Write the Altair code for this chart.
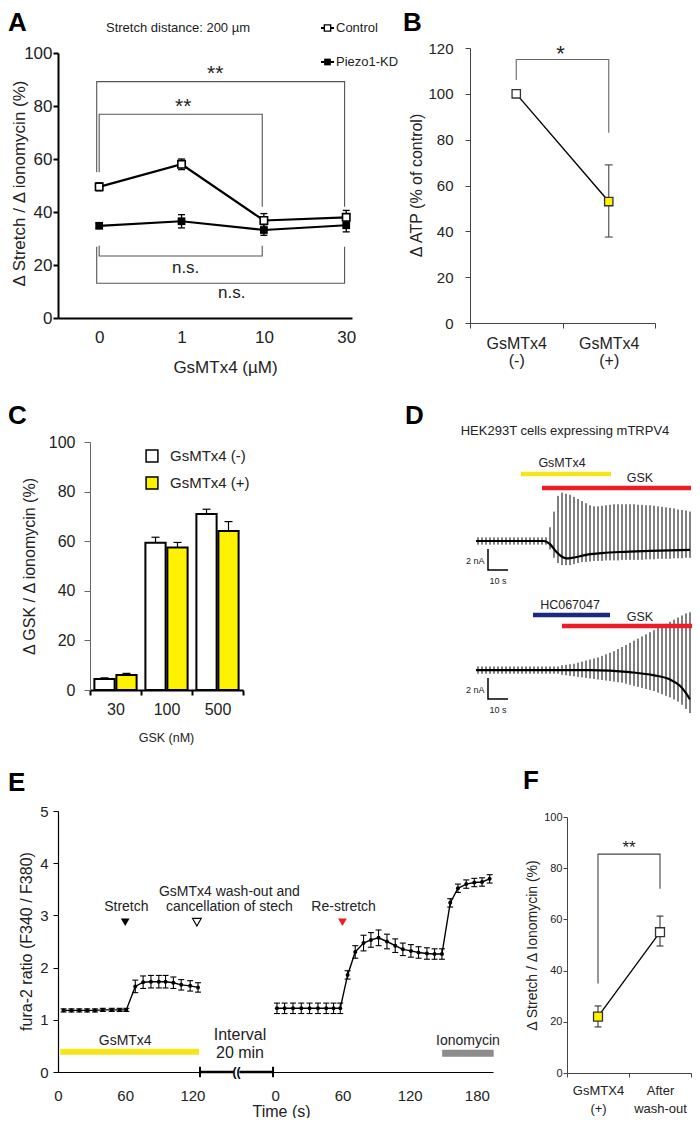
import altair as alt
import pandas as pd

FONT = "Liberation Sans"
INK = "#222222"
AX = "#444444"
YEL = "#FFF200"

# ======================= DATA =======================
# ---- Panel A ----
a_dose = ["0", "1", "10", "30"]
a_series = ["Control", "Piezo1-KD"]
a_ctrl = [49.5, 58.0, 36.8, 38.0]
a_ctrl_err = [1.5, 2.0, 2.6, 2.6]
a_kd = [34.8, 36.5, 33.2, 35.0]
a_kd_err = [1.0, 2.5, 2.0, 2.5]
a_br1_x = [-0.03, -0.03, 2.98, 2.98]
a_br1_y = [55.0, 89.2, 89.2, 42.0]
a_br2_x = [0.0, 0.0, 1.98, 1.98]
a_br2_y = [55.0, 76.9, 76.9, 42.0]
a_br3_x = [0.0, 0.0, 1.98, 1.98]
a_br3_y = [27.3, 23.4, 23.4, 27.3]
a_br4_x = [-0.03, -0.03, 2.98, 2.98]
a_br4_y = [26.9, 13.1, 13.1, 26.9]
a_star_x = [1.41, 1.02]
a_star_y = [92.0, 79.5]
a_ns_x = [1.05, 1.61]
a_ns_y = [18.9, 9.4]

# ---- Panel B ----
b_cat = ["GsMTx4|(-)", "GsMTx4|(+)"]
b_val = [100.0, 53.0]
b_lo = [100.0, 37.5]
b_hi = [100.0, 69.0]
b_br_y = [106.0, 115.0, 115.0, 83.0]
b_star_y = 117.5

# ---- Panel C ----
c_gsk = ["30", "100", "500"]
c_groups = ["GsMTx4 (-)", "GsMTx4 (+)"]
c_minus = [4.4, 59.4, 71.0]
c_minus_err = [0.5, 2.2, 1.9]
c_plus = [6.0, 57.5, 64.1]
c_plus_err = [0.7, 2.0, 3.8]

# ---- Panel D (patch clamp traces; time in s, current in nA) ----
d_t1 = [4, 6, 8, 10, 12, 14, 16, 18, 20, 22, 24, 26, 28, 30, 32, 34, 36, 38,
        40, 42, 44, 46, 48, 50, 52, 54, 56, 58, 60, 62, 64, 66, 68, 70, 72, 74,
        76, 78, 80, 82, 84, 86, 88, 90, 92, 94, 96, 98, 100, 102, 104, 106, 108, 110]
d_hi1 = [0.35, 0.35, 0.35, 0.35, 0.35, 0.35, 0.35, 0.35, 0.35, 0.35, 0.35, 0.35, 0.35, 0.35, 0.35, 0.35, 0.35, 0.35,
         1.3, 2.8, 4.3, 4.6, 4.5, 4.4, 4.2, 4.0, 3.8, 3.6, 3.4, 3.3, 3.3, 3.35, 3.4, 3.45, 3.5, 3.5,
         3.5, 3.5, 3.5, 3.5, 3.45, 3.45, 3.4, 3.4, 3.35, 3.3, 3.25, 3.2, 3.15, 3.1, 3.0, 2.95, 2.9, 2.8]
d_lo1 = [-0.35, -0.35, -0.35, -0.35, -0.35, -0.35, -0.35, -0.35, -0.35, -0.35, -0.35, -0.35, -0.35, -0.35, -0.35, -0.35, -0.35, -0.35,
         -0.8, -1.6, -2.1, -2.3, -2.3, -2.3, -2.2, -2.1, -2.0, -2.0, -1.95, -1.9, -1.9, -1.9, -1.85, -1.85, -1.85, -1.85,
         -1.8, -1.8, -1.8, -1.8, -1.8, -1.8, -1.75, -1.75, -1.75, -1.7, -1.7, -1.7, -1.7, -1.65, -1.65, -1.65, -1.6, -1.6]
d_hold1_t = [3, 37, 40, 43, 46, 48, 51, 55, 60, 66, 75, 90, 110]
d_hold1_v = [0.0, 0.0, -0.3, -1.0, -1.5, -1.65, -1.6, -1.45, -1.25, -1.15, -1.05, -0.95, -0.85]

d_t2 = [4, 6, 8, 10, 12, 14, 16, 18, 20, 22, 24, 26, 28, 30, 32, 34, 36, 38, 40, 42, 44,
        46, 48, 50, 52, 54, 56, 58, 60, 62, 64, 66, 68, 70, 72, 74, 76, 78, 80, 82, 84,
        86, 88, 90, 92, 94, 96, 98, 100, 102, 104, 106, 108, 110]
d_hi2 = [0.35, 0.35, 0.35, 0.35, 0.35, 0.35, 0.35, 0.35, 0.35, 0.35, 0.35, 0.35, 0.35, 0.35, 0.35, 0.35, 0.35, 0.35, 0.35, 0.35, 0.35,
         0.45, 0.5, 0.55, 0.6, 0.7, 0.8, 0.9, 1.0, 1.1, 1.2, 1.35, 1.5, 1.65, 1.8, 2.0, 2.2, 2.4, 2.6, 2.8, 3.0,
         3.2, 3.4, 3.6, 3.8, 4.0, 4.2, 4.4, 4.6, 4.8, 5.0, 5.2, 5.4, 5.5]
d_lo2 = [-0.35, -0.35, -0.35, -0.35, -0.35, -0.35, -0.35, -0.35, -0.35, -0.35, -0.35, -0.35, -0.35, -0.35, -0.35, -0.35, -0.35, -0.35, -0.35, -0.35, -0.35,
         -0.45, -0.5, -0.55, -0.6, -0.65, -0.7, -0.75, -0.8, -0.85, -0.9, -0.95, -1.0, -1.05, -1.1, -1.15, -1.2, -1.3, -1.4, -1.5, -1.6,
         -1.7, -1.8, -1.9, -2.0, -2.15, -2.3, -2.45, -2.6, -2.8, -3.0, -3.3, -3.7, -4.1]
d_hold2_t = [3, 60, 80, 92, 100, 105, 108, 110]
d_hold2_v = [0.0, 0.0, -0.2, -0.5, -0.9, -1.5, -2.2, -2.8]

d_bar_name = ["GsMTx4", "GSK", "HC067047", "GSK"]
d_bar_t0 = [25.5, 36.0, 31.5, 46.0]
d_bar_t1 = [70.5, 110.5, 70.0, 111.0]
d_bar_label_t = [46.0, 85.0, 50.0, 85.0]
d_bar_color = ["#F5E51B", "#EE1C25", "#1B2A80", "#EE1C25"]
d_scale_s = 10
d_scale_nA = 2

# ---- Panel E ----
e1_t = [5, 12, 19, 26, 33, 40, 48, 55, 61, 69, 76, 83, 90, 96, 103, 110, 118, 125]
e1_v = [1.18, 1.18, 1.18, 1.18, 1.18, 1.19, 1.19, 1.19, 1.19, 1.64, 1.72, 1.73, 1.73, 1.73, 1.71, 1.67, 1.65, 1.62]
e1_err = [0.03, 0.03, 0.03, 0.03, 0.03, 0.03, 0.03, 0.03, 0.03, 0.12, 0.12, 0.12, 0.12, 0.12, 0.11, 0.10, 0.10, 0.09]
e2_t = [1.5, 8.3, 15.8, 23.2, 30.6, 38.1, 45.5, 52.0, 58.0, 64.6, 71.4, 78.8, 85.4, 92.2, 99.7, 107.1, 113.9,
        121.1, 127.9, 135.4, 142.2, 148.8, 156.2, 163.1, 170.5, 177.7, 184.6, 191.4]
e2_v = [1.22, 1.22, 1.22, 1.22, 1.22, 1.22, 1.22, 1.22, 1.22, 1.86, 2.30, 2.47, 2.53, 2.57, 2.50, 2.42, 2.35,
        2.32, 2.29, 2.27, 2.26, 2.26, 3.24, 3.52, 3.60, 3.63, 3.64, 3.70]
e2_err = [0.10, 0.10, 0.10, 0.10, 0.10, 0.10, 0.10, 0.10, 0.10, 0.08, 0.12, 0.15, 0.14, 0.15, 0.14, 0.13, 0.12,
          0.12, 0.11, 0.11, 0.10, 0.10, 0.08, 0.08, 0.08, 0.08, 0.08, 0.08]
e_ticks_1 = [0, 60, 120]
e_ticks_2 = [0, 60, 120, 180]
e_marker_t = [60, 124]          # segment 1: stretch, wash-out
e_restretch_t = 60              # segment 2
e_gsm_bar = [2, 126]
e_iono_bar = [149, 195]         # segment 2
e_interval = [126.8, 192.0]

# ---- Panel F ----
f_cat = ["GsMTX4|(+)", "After|wash-out"]
f_val = [22.0, 55.0]
f_lo = [18.0, 49.6]
f_hi = [26.2, 61.3]
f_br_y = [35.0, 85.5, 85.5, 72.0]
f_star_y = 88.0

# ======================= LAYOUT (px inside the chart) =======================
W, H = 684, 1110
A0, AW, AH = (50, 45), 294, 265
B0, BW, BH = (462, 40), 185, 275
C0, CW, CH = (82, 434), 153, 248
D0, DW, DH = (462, 437), 222, 255
E0, EW, EH = (50, 803), 435, 261
F0, FW, FH = (559, 809), 124, 256


def yoff(y):
    return -(H - y)


ONE = pd.DataFrame({"k": [0]})
CAP = "M-1,0H1"


def ptext(s, x, y, size, align="center", baseline="middle", weight="normal", color=INK, **kw):
    return alt.Chart(ONE).mark_text(text=s, fontSize=size, align=align, baseline=baseline,
                                    fontWeight=weight, color=color, font=FONT, **kw).encode(
        x=alt.value(x), y=alt.value(y))


def letter(s, x, y):
    return ptext(s, x, y, 26, align="left", baseline="top", weight="bold", color="black")


def lin(domain, r0, r1):
    return alt.Scale(domain=domain, range=[r0, r1], nice=False, zero=False)


COMMON_AX = dict(labelFlush=False, labelOverlap=False, grid=False)

# ======================= PANEL A =======================
idx = list(range(len(a_dose)))
dfA = pd.DataFrame({"i": idx * 2, "v": a_ctrl + a_kd, "e": a_ctrl_err + a_kd_err,
                    "s": [a_series[0]] * len(idx) + [a_series[1]] * len(idx)})
dfA["lo"] = dfA["v"] - dfA["e"]
dfA["hi"] = dfA["v"] + dfA["e"]
dfAcap = pd.concat([dfA.assign(c=dfA["lo"]), dfA.assign(c=dfA["hi"])])
sxA = lin([-0.5, 3.07], A0[0], A0[0] + AW)
syA = lin([0, 100], A0[1] + AH, A0[1])
lblA = "[" + ",".join("'%s'" % d for d in a_dose) + "][datum.value]"
axA_x = alt.Axis(orient="bottom", offset=yoff(A0[1] + AH), values=idx, labelExpr=lblA, ticks=False,
                 domainColor="black", domainWidth=2, labelFontSize=17, labelPadding=11,
                 title="GsMTx4 (µM)", titleFontSize=17, titleX=A0[0] + 167, titleY=49,
                 titleBaseline="middle", titleAlign="center", **COMMON_AX)
axA_y = alt.Axis(orient="left", offset=-A0[0], values=[0, 20, 40, 60, 80, 100], domainColor="black",
                 domainWidth=2, tickColor="black", tickWidth=2, tickSize=5, labelFontSize=17, labelPadding=1,
                 title="Δ Stretch / Δ ionomycin (%)", titleFontSize=17,
                 titleX=-39, titleY=A0[1] + 130, titleBaseline="middle", titleAlign="center", **COMMON_AX)
XA = lambda f: alt.X(f, type="quantitative", scale=sxA, axis=axA_x)
YA = lambda f: alt.Y(f, type="quantitative", scale=syA, axis=axA_y)

A_err = alt.Chart(dfA).mark_rule(color="black", strokeWidth=1.3).encode(x=XA("i"), y=YA("lo"), y2="hi:Q")
A_caps = alt.Chart(dfAcap).mark_point(shape=CAP, size=49, color="black", strokeWidth=1.3, opacity=1).encode(
    x=XA("i"), y=YA("c"))
A_line = alt.Chart(dfA).mark_line(color="black", strokeWidth=2.2).encode(x=XA("i"), y=YA("v"), detail="s:N")
A_ctrl = alt.Chart(dfA).transform_filter(alt.datum.s == a_series[0]).mark_square(
    size=55, fill="white", stroke="black", strokeWidth=1.6, opacity=1).encode(x=XA("i"), y=YA("v"))
A_kd = alt.Chart(dfA).transform_filter(alt.datum.s == a_series[1]).mark_square(
    size=60, color="black", opacity=1).encode(x=XA("i"), y=YA("v"))
rows = []
for b, (xs, ys) in enumerate([(a_br1_x, a_br1_y), (a_br2_x, a_br2_y), (a_br3_x, a_br3_y), (a_br4_x, a_br4_y)]):
    for k, (xx, yy) in enumerate(zip(xs, ys)):
        rows.append({"b": b, "k": k, "x": xx, "y": yy})
A_br = alt.Chart(pd.DataFrame(rows)).mark_line(color="#555555", strokeWidth=1.1).encode(
    x=XA("x"), y=YA("y"), detail="b:N", order="k:Q")
A_star = alt.Chart(pd.DataFrame({"x": a_star_x, "y": a_star_y})).mark_text(
    text="**", fontSize=21, font=FONT, color=INK).encode(x=XA("x"), y=YA("y"))
A_ns = alt.Chart(pd.DataFrame({"x": a_ns_x, "y": a_ns_y})).mark_text(
    text="n.s.", fontSize=17, font=FONT, color=INK).encode(x=XA("x"), y=YA("y"))
panelA = alt.layer(A_err, A_caps, A_line, A_ctrl, A_kd, A_br, A_star, A_ns)

A_extra = [
    alt.Chart(ONE).mark_rule(color="black", strokeWidth=2).encode(x=alt.value(313), x2=alt.value(326), y=alt.value(20)),
    alt.Chart(ONE).mark_square(size=40, fill="white", stroke="black", strokeWidth=1.4, opacity=1).encode(
        x=alt.value(319.5), y=alt.value(20)),
    ptext(a_series[0], 328, 20, 13, align="left"),
    alt.Chart(ONE).mark_rule(color="black", strokeWidth=2).encode(x=alt.value(313), x2=alt.value(326), y=alt.value(54)),
    alt.Chart(ONE).mark_square(size=45, color="black", opacity=1).encode(x=alt.value(319.5), y=alt.value(54)),
    ptext(a_series[1], 328, 54, 13, align="left"),
    ptext("Stretch distance: 200 µm", 170, 20, 13),
    letter("A", 0, 2),
]

# ======================= PANEL B =======================
dfB = pd.DataFrame({"c": b_cat, "v": b_val, "lo": b_lo, "hi": b_hi})
sxB = alt.Scale(type="band", domain=b_cat, range=[B0[0], B0[0] + BW], paddingInner=0, paddingOuter=0)
syB = lin([0, 120], B0[1] + BH, B0[1])
axB_x = alt.Axis(orient="bottom", offset=yoff(B0[1] + BH), labelExpr="split(datum.label, '|')", tickBand="extent",
                 domainColor=AX, tickColor=AX, tickSize=5, labelFontSize=16, labelLineHeight=17, labelPadding=7,
                 labelAngle=0, title=None, **COMMON_AX)
axB_y = alt.Axis(orient="left", offset=-B0[0], values=[0, 20, 40, 60, 80, 100, 120], domainColor=AX, tickColor=AX,
                 tickSize=5, labelFontSize=15, labelPadding=12, title="Δ ATP (% of control)", titleFontSize=16,
                 titleX=-54, titleY=B0[1] + 137, titleBaseline="middle", titleAlign="center", **COMMON_AX)
XB = lambda f: alt.X(f, type="nominal", scale=sxB, axis=axB_x)
YB = lambda f: alt.Y(f, type="quantitative", scale=syB, axis=axB_y)
B_err = alt.Chart(dfB).transform_filter(alt.datum.hi > alt.datum.lo).mark_rule(color="#555555", strokeWidth=1.2).encode(
    x=XB("c"), y=YB("lo"), y2="hi:Q")
dfBcap = pd.concat([dfB.assign(cv=dfB["lo"]), dfB.assign(cv=dfB["hi"])])
B_caps = alt.Chart(dfBcap).transform_filter(alt.datum.hi > alt.datum.lo).mark_point(
    shape=CAP, size=64, color="#555555", strokeWidth=1.2, opacity=1).encode(x=XB("c"), y=YB("cv"))
B_line = alt.Chart(dfB).mark_line(color="black", strokeWidth=1.4).encode(x=XB("c"), y=YB("v"))
B_p0 = alt.Chart(dfB).transform_filter(alt.datum.c == b_cat[0]).mark_square(
    size=70, fill="white", stroke="#333333", strokeWidth=1.3, opacity=1).encode(x=XB("c"), y=YB("v"))
B_p1 = alt.Chart(dfB).transform_filter(alt.datum.c == b_cat[1]).mark_square(
    size=70, fill=YEL, stroke="#333333", strokeWidth=1.3, opacity=1).encode(x=XB("c"), y=YB("v"))
dfBbr = pd.DataFrame({"c": [b_cat[0], b_cat[0], b_cat[1], b_cat[1]], "y": b_br_y, "k": [0, 1, 2, 3]})
B_br = alt.Chart(dfBbr).mark_line(color="#666666", strokeWidth=1.1).encode(x=XB("c"), y=YB("y"), order="k:Q")
B_star = alt.Chart(pd.DataFrame({"y": [b_star_y]})).mark_text(text="*", fontSize=22, font=FONT, color=INK).encode(
    x=alt.value(B0[0] + BW / 2 - 2), y=YB("y"))
panelB = alt.layer(B_err, B_caps, B_line, B_p0, B_p1, B_br, B_star)
B_extra = [letter("B", 395, 2)]

# ======================= PANEL C =======================
dfC = pd.DataFrame({"gsk": c_gsk * 2, "g": [c_groups[0]] * 3 + [c_groups[1]] * 3,
                    "v": c_minus + c_plus, "e": c_minus_err + c_plus_err})
dfC["hi"] = dfC["v"] + dfC["e"]
sxC = alt.Scale(type="band", domain=c_gsk, range=[C0[0], C0[0] + CW], paddingInner=0, paddingOuter=0)
soC = alt.Scale(domain=c_groups, paddingInner=0.08, paddingOuter=0.2)
syC = lin([0, 100], C0[1] + CH, C0[1])
axC_x = alt.Axis(orient="bottom", offset=yoff(C0[1] + CH), tickBand="extent", domainColor="black", domainWidth=2,
                 tickColor="black", tickWidth=2, tickSize=5, labelFontSize=16, labelPadding=6, labelAngle=0,
                 title="GSK (nM)", titleFontSize=12.5, titleX=C0[0] + 76, titleY=47,
                 titleBaseline="middle", titleAlign="center", **COMMON_AX)
axC_y = alt.Axis(orient="left", offset=-C0[0], values=[0, 20, 40, 60, 80, 100], domainColor="#666666",
                 tickColor="#666666", tickSize=6, labelFontSize=16, labelPadding=9,
                 title="Δ GSK / Δ ionomycin (%)", titleFontSize=16,
                 titleX=-61, titleY=C0[1] + 124, titleBaseline="middle", titleAlign="center", **COMMON_AX)
XC = lambda f: alt.X(f, type="nominal", scale=sxC, axis=axC_x)
YC = lambda f: alt.Y(f, type="quantitative", scale=syC, axis=axC_y)
OC = alt.XOffset("g:N", scale=soC)
C_bar = alt.Chart(dfC).mark_bar(stroke="black", strokeWidth=2).encode(
    x=XC("gsk"), xOffset=OC, y=YC("v"),
    fill=alt.Fill("g:N", scale=alt.Scale(domain=c_groups, range=["white", YEL]), legend=None))
C_err = alt.Chart(dfC).mark_rule(color="black", strokeWidth=1.2).encode(
    x=XC("gsk"), xOffset=OC, y=YC("v"), y2="hi:Q")
C_cap = alt.Chart(dfC).mark_point(shape=CAP, size=64, color="black", strokeWidth=1.2, opacity=1).encode(
    x=XC("gsk"), xOffset=OC, y=YC("hi"))
panelC = alt.layer(C_bar, C_err, C_cap)
C_extra = [
    alt.Chart(ONE).mark_square(size=140, fill="white", stroke="black", strokeWidth=1.5, opacity=1).encode(
        x=alt.value(144), y=alt.value(448)),
    ptext(c_groups[0], 162, 448, 15, align="left"),
    alt.Chart(ONE).mark_square(size=140, fill=YEL, stroke="black", strokeWidth=1.5, opacity=1).encode(
        x=alt.value(144), y=alt.value(475)),
    ptext(c_groups[1], 162, 475, 15, align="left"),
    letter("C", 0, 395),
]

# ======================= PANEL D =======================
OFF1 = 0.0
OFF2 = -12.29
sxD = lin([0, DW / 2.0], D0[0], D0[0] + DW)
syD = lin([-15.14, 9.14], D0[1] + DH, D0[1])
XD = lambda f: alt.X(f, type="quantitative", scale=sxD, axis=None)
YD = lambda f: alt.Y(f, type="quantitative", scale=syD, axis=None)
dfD1 = pd.DataFrame({"t": d_t1, "hi": d_hi1, "lo": d_lo1})
dfD2 = pd.DataFrame({"t": d_t2, "hi": d_hi2, "lo": d_lo2})
dfH1 = pd.DataFrame({"t": d_hold1_t, "v": d_hold1_v})
dfH2 = pd.DataFrame({"t": d_hold2_t, "v": d_hold2_v})


def trace_layers(dfs, dfh, off):
    sp = alt.Chart(dfs).transform_calculate(a="datum.lo + %f" % off, b="datum.hi + %f" % off).mark_rule(
        color="black", strokeWidth=1).encode(x=XD("t"), y=YD("a"), y2="b:Q")
    hl = alt.Chart(dfh).transform_calculate(a="datum.v + %f" % off).mark_line(
        color="black", strokeWidth=2.2, interpolate="monotone").encode(x=XD("t"), y=YD("a"))
    sb = alt.Chart(pd.DataFrame({"t": [9, 9, 9 + d_scale_s],
                                 "a": [off - 0.76, off - 0.76 - d_scale_nA, off - 0.76 - d_scale_nA],
                                 "k": [0, 1, 2]})).mark_line(color="black", strokeWidth=1.5).encode(
        x=XD("t"), y=YD("a"), order="k:Q")
    lab1 = alt.Chart(pd.DataFrame({"t": [7.3], "a": [off - 1.9]})).mark_text(
        text="%d nA" % d_scale_nA, fontSize=9, align="right", font=FONT, color=INK).encode(x=XD("t"), y=YD("a"))
    lab2 = alt.Chart(pd.DataFrame({"t": [14], "a": [off - 3.8]})).mark_text(
        text="%d s" % d_scale_s, fontSize=9, font=FONT, color=INK).encode(x=XD("t"), y=YD("a"))
    return [sp, hl, sb, lab1, lab2]


dfDbar = pd.DataFrame({"name": d_bar_name, "t0": d_bar_t0, "t1": d_bar_t1, "lt": d_bar_label_t,
                       "col": d_bar_color, "by": [6.38, 5.05, -7.05, -8.1], "ly": [7.43, 6.0, -6.1, -7.24]})
D_bars = alt.Chart(dfDbar).mark_rule(strokeWidth=4.5).encode(
    x=XD("t0"), x2="t1:Q", y=YD("by"), color=alt.Color("col:N", scale=None))
D_blab = alt.Chart(dfDbar).mark_text(fontSize=12.5, font=FONT, color=INK).encode(
    x=XD("lt"), y=YD("ly"), text="name:N")
panelD = alt.layer(*trace_layers(dfD1, dfH1, OFF1), *trace_layers(dfD2, dfH2, OFF2), D_bars, D_blab)
D_extra = [ptext("HEK293T cells expressing mTRPV4", 557, 423, 13), letter("D", 397, 395)]

# ======================= PANEL E =======================
E2_OFF = 194
sxE = lin([0, EW / 1.12], E0[0], E0[0] + EW)
syE = lin([0, 5], E0[1] + EH, E0[1])
tick_vals = e_ticks_1 + [t + E2_OFF for t in e_ticks_2]
axE_x = alt.Axis(orient="bottom", offset=yoff(E0[1] + EH), values=tick_vals, ticks=False, domainColor="black",
                 domainWidth=1.2,
                 labelExpr="datum.value >= %d ? format(datum.value - %d, 'd') : format(datum.value, 'd')" % (E2_OFF, E2_OFF),
                 labelFontSize=15, labelPadding=23, labelBaseline="middle",
                 title="Time (s)", titleFontSize=16, titleX=E0[0] + 223, titleY=39,
                 titleBaseline="middle", titleAlign="center", **COMMON_AX)
axE_y = alt.Axis(orient="left", offset=-E0[0], values=[0, 1, 2, 3, 4, 5], domainColor="black", domainWidth=1.2,
                 tickColor="black", tickSize=5, labelFontSize=15, labelPadding=5,
                 title="fura-2 ratio (F340 / F380)", titleFontSize=16,
                 titleX=-32, titleY=E0[1] + 130, titleBaseline="middle", titleAlign="center", **COMMON_AX)
dfE = pd.concat([
    pd.DataFrame({"t": e1_t, "v": e1_v, "e": e1_err, "seg": 1}),
    pd.DataFrame({"t": [t + E2_OFF for t in e2_t], "v": e2_v, "e": e2_err, "seg": 2}),
])
dfE["lo"] = dfE["v"] - dfE["e"]
dfE["hi"] = dfE["v"] + dfE["e"]
dfEcap = pd.concat([dfE.assign(c=dfE["lo"]), dfE.assign(c=dfE["hi"])])
XE = lambda f: alt.X(f, type="quantitative", scale=sxE, axis=axE_x)
YE = lambda f: alt.Y(f, type="quantitative", scale=syE, axis=axE_y)
E_err = alt.Chart(dfE).mark_rule(color="black", strokeWidth=1.1).encode(x=XE("t"), y=YE("lo"), y2="hi:Q")
E_cap = alt.Chart(dfEcap).mark_point(shape=CAP, size=36, color="black", strokeWidth=1.1, opacity=1).encode(
    x=XE("t"), y=YE("c"))
E_line = alt.Chart(dfE).mark_line(color="black", strokeWidth=1.4).encode(x=XE("t"), y=YE("v"), detail="seg:N")
E_pts = alt.Chart(dfE).mark_circle(color="black", size=16, opacity=1).encode(x=XE("t"), y=YE("v"))
E_bar1 = alt.Chart(pd.DataFrame({"t0": [e_gsm_bar[0]], "t1": [e_gsm_bar[1]], "y": [0.39]})).mark_rule(
    strokeWidth=6, color="#F5E51B").encode(x=XE("t0"), x2="t1:Q", y=YE("y"))
E_bar2 = alt.Chart(pd.DataFrame({"t0": [e_iono_bar[0] + E2_OFF], "t1": [e_iono_bar[1] + E2_OFF], "y": [0.36]})).mark_rule(
    strokeWidth=7, color="#8C8C8C").encode(x=XE("t0"), x2="t1:Q", y=YE("y"))
E_int = alt.Chart(pd.DataFrame({"t0": [e_interval[0]], "t1": [e_interval[1]], "y": [0.0]})).mark_rule(
    strokeWidth=2.4, color="black").encode(x=XE("t0"), x2="t1:Q", y=YE("y"))
E_intcap = alt.Chart(pd.DataFrame({"t": e_interval, "a": [-0.1, -0.1], "b": [0.1, 0.1]})).mark_rule(
    strokeWidth=2, color="black").encode(x=XE("t"), y=YE("a"), y2="b:Q")
mid = (e_interval[0] + e_interval[1]) / 2
E_gap = alt.Chart(pd.DataFrame({"t0": [mid - 2.5], "t1": [mid + 2.5], "y": [0.0]})).mark_rule(
    strokeWidth=5, color="white").encode(x=XE("t0"), x2="t1:Q", y=YE("y"))
E_brk = alt.Chart(pd.DataFrame({"t": [mid], "y": [0.0]})).mark_text(
    text="((", fontSize=12, fontWeight="bold", font=FONT, color="black").encode(x=XE("t"), y=YE("y"))
E_tri1 = alt.Chart(pd.DataFrame({"t": [e_marker_t[0]], "y": [2.87]})).mark_point(
    shape="triangle-down", filled=True, size=75, color="black", opacity=1).encode(x=XE("t"), y=YE("y"))
E_tri2 = alt.Chart(pd.DataFrame({"t": [e_marker_t[1]], "y": [2.87]})).mark_point(
    shape="triangle-down", filled=True, size=75, fill="white", stroke="black", strokeWidth=1.2, opacity=1).encode(
    x=XE("t"), y=YE("y"))
E_tri3 = alt.Chart(pd.DataFrame({"t": [e_restretch_t + E2_OFF], "y": [2.87]})).mark_point(
    shape="triangle-down", filled=True, size=75, color="#EE1C25", opacity=1).encode(x=XE("t"), y=YE("y"))


def etext(s, t, y, size, **kw):
    return alt.Chart(pd.DataFrame({"t": [t], "y": [y]})).mark_text(
        text=s, fontSize=size, font=FONT, color=INK, **kw).encode(x=XE("t"), y=YE("y"))


E_texts = [
    etext("Stretch", 61, 3.17, 14),
    etext("GsMTx4 wash-out and", 153, 3.44, 14),
    etext("cancellation of stech", 153, 3.17, 14),
    etext("Re-stretch", 61 + E2_OFF, 3.17, 14),
    etext("GsMTx4", 60, 0.6, 14),
    etext("Interval", 162.5, 0.71, 16),
    etext("20 min", 162.5, 0.36, 16),
    etext("Ionomycin", 172 + E2_OFF, 0.6, 14),
]
panelE = alt.layer(E_err, E_cap, E_line, E_pts, E_bar1, E_bar2, E_int, E_intcap, E_gap, E_brk,
                   E_tri1, E_tri2, E_tri3, *E_texts)
E_extra = [letter("E", 0, 762)]

# ======================= PANEL F =======================
dfF = pd.DataFrame({"c": f_cat, "v": f_val, "lo": f_lo, "hi": f_hi})
sxF = alt.Scale(type="band", domain=f_cat, range=[F0[0], F0[0] + FW], paddingInner=0, paddingOuter=0)
syF = lin([0, 100], F0[1] + FH, F0[1])
axF_x = alt.Axis(orient="bottom", offset=yoff(F0[1] + FH), labelExpr="split(datum.label, '|')", tickBand="extent",
                 domainColor=AX, tickColor=AX, tickSize=4, labelFontSize=13, labelLineHeight=18, labelPadding=7,
                 labelAngle=0, title=None, **COMMON_AX)
axF_y = alt.Axis(orient="left", offset=-F0[0], values=[0, 20, 40, 60, 80, 100], domainColor=AX, tickColor=AX,
                 tickSize=4, labelFontSize=11, labelPadding=1, title="Δ Stretch / Δ Ionomycin (%)", titleFontSize=14,
                 titleX=-35, titleY=F0[1] + 128, titleBaseline="middle", titleAlign="center", **COMMON_AX)
XF = lambda f: alt.X(f, type="nominal", scale=sxF, axis=axF_x)
YF = lambda f: alt.Y(f, type="quantitative", scale=syF, axis=axF_y)
F_err = alt.Chart(dfF).mark_rule(color="#333333", strokeWidth=1.1).encode(x=XF("c"), y=YF("lo"), y2="hi:Q")
dfFcap = pd.concat([dfF.assign(cv=dfF["lo"]), dfF.assign(cv=dfF["hi"])])
F_caps = alt.Chart(dfFcap).mark_point(shape=CAP, size=49, color="#333333", strokeWidth=1.1, opacity=1).encode(
    x=XF("c"), y=YF("cv"))
F_line = alt.Chart(dfF).mark_line(color="black", strokeWidth=1.3).encode(x=XF("c"), y=YF("v"))
F_p0 = alt.Chart(dfF).transform_filter(alt.datum.c == f_cat[0]).mark_square(
    size=80, fill=YEL, stroke="#333333", strokeWidth=1.3, opacity=1).encode(x=XF("c"), y=YF("v"))
F_p1 = alt.Chart(dfF).transform_filter(alt.datum.c == f_cat[1]).mark_square(
    size=80, fill="white", stroke="#333333", strokeWidth=1.3, opacity=1).encode(x=XF("c"), y=YF("v"))
dfFbr = pd.DataFrame({"c": [f_cat[0], f_cat[0], f_cat[1], f_cat[1]], "y": f_br_y, "k": [0, 1, 2, 3]})
F_br = alt.Chart(dfFbr).mark_line(color="#444444", strokeWidth=1.1).encode(x=XF("c"), y=YF("y"), order="k:Q")
F_star = alt.Chart(pd.DataFrame({"y": [f_star_y]})).mark_text(text="**", fontSize=17, font=FONT, color=INK).encode(
    x=alt.value(F0[0] + FW / 2), y=YF("y"))
panelF = alt.layer(F_err, F_caps, F_line, F_p0, F_p1, F_br, F_star)
F_extra = [letter("F", 515, 760)]

# ======================= COMPOSE =======================
chart = alt.layer(
    panelA, panelB, panelC, panelD, panelE, panelF,
    *A_extra, *B_extra, *C_extra, *D_extra, *E_extra, *F_extra
).resolve_scale(x="independent", y="independent").properties(
    width=W, height=H,
    padding={"left": 0, "top": 0, "right": 0, "bottom": 0},
    autosize=alt.AutoSizeParams(type="none"),
).configure_view(stroke="transparent").configure_axis(
    labelFont=FONT, titleFont=FONT, labelColor=INK, titleColor=INK, grid=False, titleFontWeight="normal"
).configure_text(font=FONT)

chart.save("out.html", embed_options={"renderer": "svg", "actions": False})
